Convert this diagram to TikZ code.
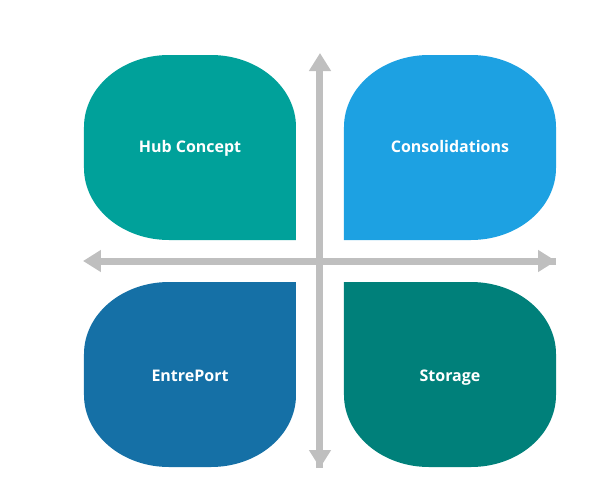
\documentclass[tikz,border=0pt]{standalone}
\usepackage{fontspec}
\setmainfont{Open Sans}
\usetikzlibrary{arrows.meta}
\definecolor{hubteal}{RGB}{0,161,154}
\definecolor{consblue}{RGB}{29,161,226}
\definecolor{entreblue}{RGB}{21,112,166}
\definecolor{stordark}{RGB}{0,128,122}
\definecolor{axisgray}{RGB}{191,191,191}
\begin{document}
\begin{tikzpicture} [
                x=1pt, y=1pt,
                axis/.style = {draw=axisgray,line width=7pt,-{Triangle[width=21pt,length=18pt]}},
                label/.style = {text=white,font=\bfseries\fontsize{16}{19}\selectfont,
                    text height=8pt,text depth=3pt,inner sep=0pt},
            ]
            \useasboundingbox (-320,-222) rectangle (293,261);
            % petals, sharp corner towards the centre
            \foreach \sx/\sy/\col/\name/\txt in {
            {-1/1/hubteal/hub/Hub Concept}, {1/1/consblue/cons/Consolidations},
            {-1/-1/entreblue/entre/EntrePort}, {1/-1/stordark/stor/Storage}} {
                \begin{scope}[xscale=\sx, yscale=\sy]
                    \fill[\col] (24,21) -- (151,21)
                        arc[start angle=270, end angle=360, x radius=85, y radius=72]
                        -- (236,134)
                        arc[start angle=0, end angle=90, x radius=85, y radius=72]
                        -- (109,206)
                        arc[start angle=90, end angle=180, x radius=85, y radius=72]
                        -- cycle;
                \end{scope}
                \node[label] (\name) at (130*\sx,114.5*\sy-3) {\txt};
            }
            % axes
            \coordinate (top) at (0,208);
            \coordinate (bottom) at (0,-207);
            \coordinate (left) at (-237,0);
            \coordinate (right) at (236,0);
            \path[axis] (bottom) -- (top);
            \path[axis] (0,0) -- (bottom);
            \path[axis] (right) -- (left);
            \path[axis] (0,0) -- (right);
        \end{tikzpicture}
\end{document}
